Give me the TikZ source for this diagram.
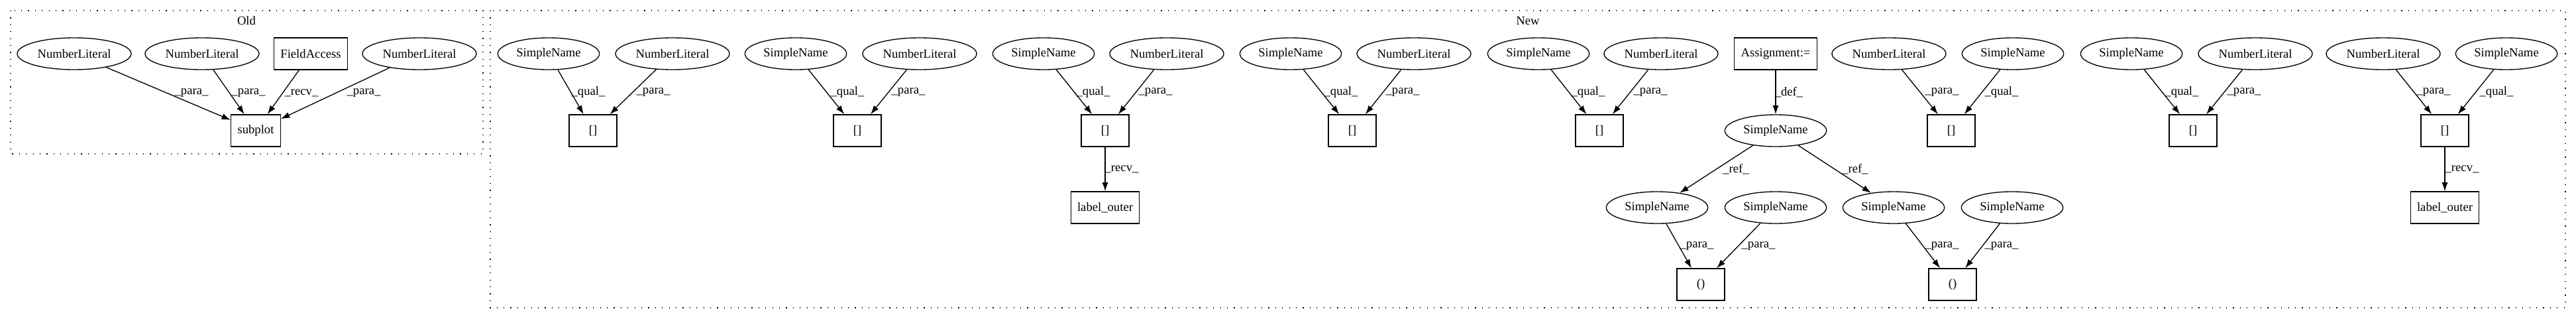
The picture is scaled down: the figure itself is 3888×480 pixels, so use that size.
\documentclass[tikz,border=0pt]{standalone}
\usepackage{fontspec}
\setmainfont{Liberation Serif}
\usepackage{tikz}
\usetikzlibrary{shapes.geometric,arrows.meta}

\begin{document}
\begin{tikzpicture}[x=0.75pt,y=0.75pt,yscale=-1,
  every node/.style={font=\fontsize{14pt}{17pt}\selectfont},
  ellnode/.style={ellipse,draw,line width=1pt,minimum height=36pt,inner sep=0pt},
  numlit/.style={ellnode,minimum width=129pt},
  simname/.style={ellnode,minimum width=115pt},
  boxnode/.style={rectangle,draw,line width=1pt,minimum height=36pt,inner sep=0pt},
  link/.style={-{Latex[length=10pt,width=7pt]},line width=1pt},
  elabel/.style={inner sep=0pt},
  cluster/.style={line width=1pt,dash pattern=on 0.9pt off 6.9pt}]
%set diagram size to 3888 x 480
\useasboundingbox (0,0) rectangle (3888,480);

%Clusters
\draw[cluster] (16,16) rectangle (729,232);
\draw[cluster] (740,16) rectangle (3872,464);
\node (told) at (372,31) {Old};
\node (tnew) at (2306,31) {New};

%Old
\node[numlit] (onl1) at (112,81) {NumberLiteral};
\node[numlit] (onl2) at (305,81) {NumberLiteral};
\node[boxnode,minimum width=83pt] (ofa) at (469,81) {FieldAccess};
\node[numlit] (onl3) at (633,81) {NumberLiteral};
\node[boxnode,minimum width=56pt] (osub) at (386,197) {subplot};
\draw[link] (onl1) -- (osub);
\draw[link] (onl2) -- (osub);
\draw[link] (ofa) -- (osub);
\draw[link] (onl3) -- (osub);
\node[elabel] (lo1) at (289,140) {\_para\_};
\node[elabel] (lo2) at (375,140) {\_para\_};
\node[elabel] (lo3) at (455,140) {\_recv\_};
\node[elabel] (lo4) at (549,140) {\_para\_};

%New: index pair a
\node[simname] (sna) at (828,81) {SimpleName};
\node[numlit] (nla) at (1015,81) {NumberLiteral};
\node[boxnode,minimum width=54pt] (ia) at (895,197) {[]};
\draw[link] (sna) -- (ia);
\draw[link] (nla) -- (ia);
\node[elabel] (la1) at (888,139) {\_qual\_};
\node[elabel] (la2) at (986,139) {\_para\_};

%New: index pair b
\node[simname] (snb) at (1201,81) {SimpleName};
\node[numlit] (nlb) at (1388,81) {NumberLiteral};
\node[boxnode,minimum width=54pt] (ib) at (1294,197) {[]};
\draw[link] (snb) -- (ib);
\draw[link] (nlb) -- (ib);
\node[elabel] (lb1) at (1279,139) {\_qual\_};
\node[elabel] (lb2) at (1371,139) {\_para\_};

%New: index pair c, with receiver
\node[simname] (snc) at (1575,81) {SimpleName};
\node[numlit] (nlc) at (1761,81) {NumberLiteral};
\node[boxnode,minimum width=54pt] (ic) at (1668,197) {[]};
\node[boxnode,minimum width=77pt] (outc) at (1668,313) {label\_outer};
\draw[link] (snc) -- (ic);
\draw[link] (nlc) -- (ic);
\draw[link] (ic) -- (outc);
\node[elabel] (lc1) at (1650,139) {\_qual\_};
\node[elabel] (lc2) at (1744,139) {\_para\_};
\node[elabel] (lc3) at (1693,255) {\_recv\_};

%New: index pair d
\node[simname] (snd) at (1948,81) {SimpleName};
\node[numlit] (nld) at (2134,81) {NumberLiteral};
\node[boxnode,minimum width=54pt] (id) at (2041,197) {[]};
\draw[link] (snd) -- (id);
\draw[link] (nld) -- (id);
\node[elabel] (ld1) at (2024,139) {\_qual\_};
\node[elabel] (ld2) at (2117,139) {\_para\_};

%New: index pair e
\node[simname] (sne) at (2322,81) {SimpleName};
\node[numlit] (nle) at (2507,81) {NumberLiteral};
\node[boxnode,minimum width=54pt] (ie) at (2414,197) {[]};
\draw[link] (sne) -- (ie);
\draw[link] (nle) -- (ie);
\node[elabel] (le1) at (2397,139) {\_qual\_};
\node[elabel] (le2) at (2491,139) {\_para\_};

%New: assignment and calls
\node[boxnode,minimum width=94pt] (asg) at (2680,81) {Assignment:=};
\node[simname] (snm) at (2680,197) {SimpleName};
\node[simname] (snf1) at (2501,313) {SimpleName};
\node[simname] (snf2) at (2680,313) {SimpleName};
\node[simname] (sng1) at (2858,313) {SimpleName};
\node[simname] (sng2) at (3037,313) {SimpleName};
\node[boxnode,minimum width=54pt] (cf) at (2567,429) {()};
\node[boxnode,minimum width=54pt] (cg) at (2947,429) {()};
\draw[link] (asg) -- (snm);
\draw[link] (snm) -- (snf1);
\draw[link] (snm) -- (sng1);
\draw[link] (snf1) -- (cf);
\draw[link] (snf2) -- (cf);
\draw[link] (sng1) -- (cg);
\draw[link] (sng2) -- (cg);
\node[elabel] (lm1) at (2700,139) {\_def\_};
\node[elabel] (lm2) at (2620,255) {\_ref\_};
\node[elabel] (lm3) at (2800,255) {\_ref\_};
\node[elabel] (lf1) at (2561,371) {\_para\_};
\node[elabel] (lf2) at (2654,371) {\_para\_};
\node[elabel] (lg1) at (2931,371) {\_para\_};
\node[elabel] (lg2) at (3021,371) {\_para\_};

%New: index pair h
\node[numlit] (nlh) at (2851,81) {NumberLiteral};
\node[simname] (snh) at (3038,81) {SimpleName};
\node[boxnode,minimum width=54pt] (ih) at (2945,197) {[]};
\draw[link] (nlh) -- (ih);
\draw[link] (snh) -- (ih);
\node[elabel] (lh1) at (2931,139) {\_para\_};
\node[elabel] (lh2) at (3021,139) {\_qual\_};

%New: index pair i
\node[simname] (sni) at (3217,81) {SimpleName};
\node[numlit] (nli) at (3404,81) {NumberLiteral};
\node[boxnode,minimum width=54pt] (ii) at (3310,197) {[]};
\draw[link] (sni) -- (ii);
\draw[link] (nli) -- (ii);
\node[elabel] (li1) at (3293,139) {\_qual\_};
\node[elabel] (li2) at (3387,139) {\_para\_};

%New: index pair j, with receiver
\node[numlit] (nlj) at (3597,81) {NumberLiteral};
\node[simname] (snj) at (3783,81) {SimpleName};
\node[boxnode,minimum width=54pt] (ij) at (3690,197) {[]};
\node[boxnode,minimum width=77pt] (outj) at (3690,313) {label\_outer};
\draw[link] (nlj) -- (ij);
\draw[link] (snj) -- (ij);
\draw[link] (ij) -- (outj);
\node[elabel] (lj1) at (3673,139) {\_para\_};
\node[elabel] (lj2) at (3768,139) {\_qual\_};
\node[elabel] (lj3) at (3716,255) {\_recv\_};

\end{tikzpicture}
\end{document}
